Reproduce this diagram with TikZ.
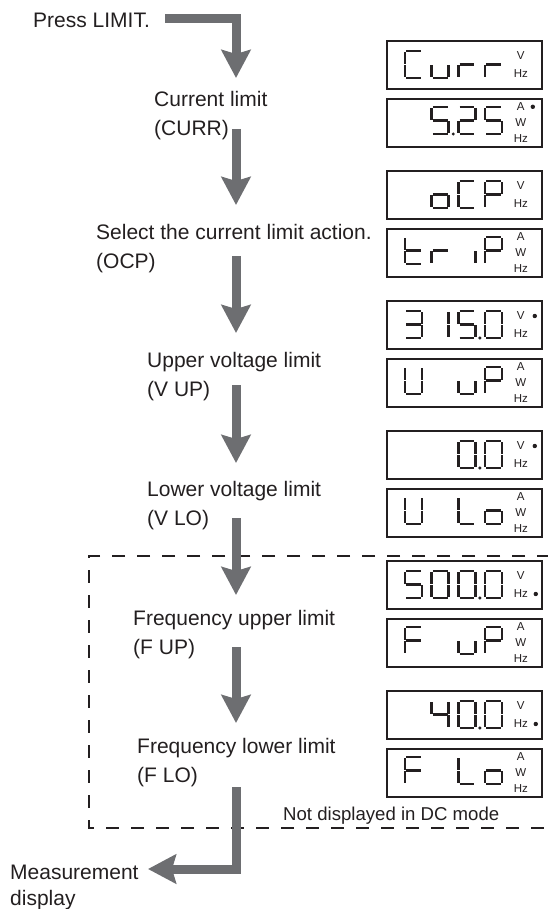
\documentclass[tikz,border=0pt]{standalone}
\usepackage{fontspec}
\setmainfont{Liberation Sans}
\usetikzlibrary{arrows.meta, positioning}

\definecolor{inkblack}{HTML}{231F20}
\definecolor{flowgray}{HTML}{6D6E71}

% Seven-segment pieces (cell is 17 wide, 27 high)
\tikzset{
    seg a/.style={insert path={(1.2,0)--(15.8,0)}},
    seg b/.style={insert path={(17,1.2)--(17,12.6)}},
    seg c/.style={insert path={(17,14.4)--(17,25.8)}},
    seg d/.style={insert path={(1.2,27)--(15.8,27)}},
    seg e/.style={insert path={(0,14.4)--(0,25.8)}},
    seg f/.style={insert path={(0,1.2)--(0,12.6)}},
    seg g/.style={insert path={(1.2,13.5)--(15.8,13.5)}}
}

% Characters as segment lists
\newcommand\lcdzero{a,b,c,d,e,f}
\newcommand\lcdone{b,c}
\newcommand\lcdtwo{a,b,d,e,g}
\newcommand\lcdthree{a,b,c,d,g}
\newcommand\lcdfour{b,c,f,g}
\newcommand\lcdfive{a,c,d,f,g}
\newcommand\lcdC{a,d,e,f}
\newcommand\lcdu{c,d,e}
\newcommand\lcdr{e,g}
\newcommand\lcdo{c,d,e,g}
\newcommand\lcdP{a,b,e,f,g}
\newcommand\lcdt{d,e,f,g}
\newcommand\lcdi{c}
\newcommand\lcdU{b,c,d,e,f}
\newcommand\lcdL{d,e,f}
\newcommand\lcdF{a,e,f,g}

% #1 box top, #2 cell number, #3 segment list
\newcommand\lcdchar[3]{%
    \begin{scope}[shift={({405+26.7*#2},{#1+11})}]
        \foreach \s in #3 {\draw[segline, seg \s];}
    \end{scope}}
% decimal point after cell #2
\newcommand\lcddot[2]{\fill[inkblack] ({405+26.7*#2+21.5},{#1+38}) circle (1.7);}

% unit columns on the right of a box
\newcommand\vhunits[1]{%
    \node[unit_text] (#1_v) at ([xshift=-22pt, yshift=-16pt]#1.north east) {V};
    \node[unit_text] (#1_hz) at ([xshift=-22pt, yshift=-34pt]#1.north east) {Hz};}
\newcommand\awhunits[1]{%
    \node[unit_text] (#1_a) at ([xshift=-22pt, yshift=-9pt]#1.north east) {A};
    \node[unit_text] (#1_w) at ([xshift=-22pt, yshift=-25pt]#1.north east) {W};
    \node[unit_text] (#1_hz) at ([xshift=-22pt, yshift=-41pt]#1.north east) {Hz};}

\begin{document}
\begin{tikzpicture}[
    x=1pt, y=-1pt,
    % Styles
    label_text/.style={anchor=north west, inner sep=0pt, align=left, text=inkblack, font=\fontsize{21}{29}\selectfont},
    lcd_box/.style={draw=inkblack, line width=1.8pt, anchor=north west, minimum width=155pt, minimum height=48pt, inner sep=0pt},
    unit_text/.style={text=inkblack, inner sep=0pt, font=\fontsize{11.5}{11.5}\selectfont},
    segline/.style={draw=inkblack, line width=2.5pt},
    flow/.style={-{Stealth[length=28pt, width=29pt, inset=4pt]}, line width=9pt, flowgray},
    group_frame/.style={draw=inkblack, line width=2pt, dash pattern=on 13pt off 12pt}
]
    \useasboundingbox (0,0) rectangle (548,909);

    % 1. STEP TEXTS
    \node[label_text] (press) at (33,13) {Press LIMIT.};
    \node[label_text] (curr) at (154,91) {Current limit\\(CURR)};
    \node[label_text] (ocp) at (96,224) {Select the current limit action.\\(OCP)};
    \node[label_text] (vup) at (147,352) {Upper voltage limit\\(V UP)};
    \node[label_text] (vlo) at (147,481) {Lower voltage limit\\(V LO)};
    \node[label_text] (fup) at (133,610) {Frequency upper limit\\(F UP)};
    \node[label_text] (flo) at (137,738) {Frequency lower limit\\(F LO)};
    \node[label_text, font=\fontsize{21}{26}\selectfont] (meas) at (10,865) {Measurement\\display};

    % 2. AC-ONLY FRAME
    \coordinate (frame_tr) at (550,556);
    \coordinate (frame_tl) at (89,556);
    \coordinate (frame_bl) at (89,828);
    \coordinate (frame_br) at (550,828);
    \draw[group_frame] (frame_tr) -- (frame_tl) -- (frame_bl) -- (frame_br);
    \node[label_text, font=\fontsize{18.6}{20}\selectfont] (nodc) at (283,807) {Not displayed in DC mode};

    % 3. ARROWS along x = 236
    \coordinate (go) at (165,19);
    \coordinate (curr_in) at (236,78);
    \coordinate (curr_out) at (236,129);
    \coordinate (ocp_in) at (236,205);
    \coordinate (ocp_out) at (236,256);
    \coordinate (vup_in) at (236,333);
    \coordinate (vup_out) at (236,385);
    \coordinate (vlo_in) at (236,463);
    \coordinate (vlo_out) at (236,518);
    \coordinate (fup_in) at (236,595);
    \coordinate (fup_out) at (236,647);
    \coordinate (flo_in) at (236,723);
    \coordinate (flo_out) at (236,787);
    \coordinate (meas_in) at (148,869);

    \draw[flow] (go) -| (curr_in);
    \draw[flow] (curr_out) -- (ocp_in);
    \draw[flow] (ocp_out) -- (vup_in);
    \draw[flow] (vup_out) -- (vlo_in);
    \draw[flow] (vlo_out) -- (fup_in);
    \draw[flow] (fup_out) -- (flo_in);
    \draw[flow] (flo_out) |- (meas_in);

    % 4. DISPLAYS
    \node[lcd_box] (curr_set) at (386,40) {};
    \node[lcd_box, below=8pt of curr_set] (curr_val) {};
    \node[lcd_box] (ocp_set) at (386,170) {};
    \node[lcd_box, below=8pt of ocp_set] (ocp_val) {};
    \node[lcd_box] (vup_set) at (386,300) {};
    \node[lcd_box, below=8pt of vup_set] (vup_val) {};
    \node[lcd_box] (vlo_set) at (386,430) {};
    \node[lcd_box, below=8pt of vlo_set] (vlo_val) {};
    \node[lcd_box] (fup_set) at (386,560) {};
    \node[lcd_box, below=8pt of fup_set] (fup_val) {};
    \node[lcd_box] (flo_set) at (386,690) {};
    \node[lcd_box, below=8pt of flo_set] (flo_val) {};

    \vhunits{curr_set} \awhunits{curr_val}
    \vhunits{ocp_set} \awhunits{ocp_val}
    \vhunits{vup_set} \awhunits{vup_val}
    \vhunits{vlo_set} \awhunits{vlo_val}
    \vhunits{fup_set} \awhunits{fup_val}
    \vhunits{flo_set} \awhunits{flo_val}

    % indicator dots
    \fill[inkblack] ([xshift=-10pt, yshift=-9pt]curr_val.north east) circle (2.2);
    \fill[inkblack] ([xshift=-8pt, yshift=-16pt]vup_set.north east) circle (2.2);
    \fill[inkblack] ([xshift=-8pt, yshift=-16pt]vlo_set.north east) circle (2.2);
    \fill[inkblack] ([xshift=-7pt, yshift=-34pt]fup_set.north east) circle (2.2);
    \fill[inkblack] ([xshift=-7pt, yshift=-34pt]flo_set.north east) circle (2.2);

    % segment texts
    \lcdchar{40}{0}{\lcdC} \lcdchar{40}{1}{\lcdu} \lcdchar{40}{2}{\lcdr} \lcdchar{40}{3}{\lcdr}
    \lcdchar{96}{1}{\lcdfive} \lcdchar{96}{2}{\lcdtwo} \lcdchar{96}{3}{\lcdfive} \lcddot{96}{1}
    \lcdchar{170}{1}{\lcdo} \lcdchar{170}{2}{\lcdC} \lcdchar{170}{3}{\lcdP}
    \lcdchar{226}{0}{\lcdt} \lcdchar{226}{1}{\lcdr} \lcdchar{226}{2}{\lcdi} \lcdchar{226}{3}{\lcdP}
    \lcdchar{300}{0}{\lcdthree} \lcdchar{300}{1}{\lcdone} \lcdchar{300}{2}{\lcdfive} \lcdchar{300}{3}{\lcdzero} \lcddot{300}{2}
    \lcdchar{356}{0}{\lcdU} \lcdchar{356}{2}{\lcdu} \lcdchar{356}{3}{\lcdP}
    \lcdchar{430}{2}{\lcdzero} \lcdchar{430}{3}{\lcdzero} \lcddot{430}{2}
    \lcdchar{486}{0}{\lcdU} \lcdchar{486}{2}{\lcdL} \lcdchar{486}{3}{\lcdo}
    \lcdchar{560}{0}{\lcdfive} \lcdchar{560}{1}{\lcdzero} \lcdchar{560}{2}{\lcdzero} \lcdchar{560}{3}{\lcdzero} \lcddot{560}{2}
    \lcdchar{616}{0}{\lcdF} \lcdchar{616}{2}{\lcdu} \lcdchar{616}{3}{\lcdP}
    \lcdchar{690}{1}{\lcdfour} \lcdchar{690}{2}{\lcdzero} \lcdchar{690}{3}{\lcdzero} \lcddot{690}{2}
    \lcdchar{746}{0}{\lcdF} \lcdchar{746}{2}{\lcdL} \lcdchar{746}{3}{\lcdo}

\end{tikzpicture}
\end{document}
